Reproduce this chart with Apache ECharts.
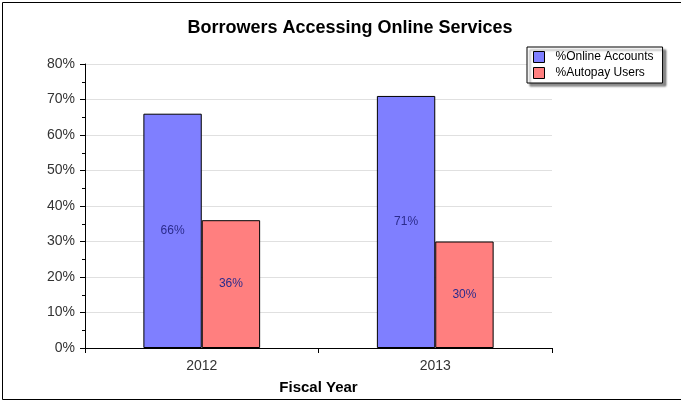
<!DOCTYPE html>
<html><head><meta charset="utf-8">
<script src="https://cdn.jsdelivr.net/npm/echarts@6/dist/echarts.min.js"></script>
<style>html,body{margin:0;padding:0;background:#fff}#c{width:681px;height:400px}</style>
</head><body><div id="c"></div>
<script>
const categories = ['2012', '2013'];
const onlineAccounts = [66, 71];
const autopayUsers = [36, 30];
const seriesNames = ['%Online Accounts', '%Autopay Users'];

const chart = echarts.init(document.getElementById('c'), null, {renderer: 'canvas'});
const labelStyle = {show: true, position: 'inside', formatter: '{c}%', color: '#2b2b8c', fontSize: 12, fontFamily: 'Arial, Liberation Sans, sans-serif'};
chart.setOption({
  animation: false,
  backgroundColor: '#fff',
  textStyle: {fontFamily: 'Arial, Liberation Sans, sans-serif'},
  title: {
    text: 'Borrowers Accessing Online Services',
    left: 345, textAlign: 'center', top: 14,
    textStyle: {fontSize: 18, fontWeight: 'bold', color: '#000'}
  },
  legend: {
    orient: 'vertical', left: 527, top: 47,
    icon: 'rect',
    itemWidth: 11, itemHeight: 11, itemGap: 4,
    padding: [4, 9, 4, 6],
    backgroundColor: '#fff', borderColor: '#000', borderWidth: 1,
    shadowColor: 'rgba(0,0,0,0.45)', shadowOffsetX: 3, shadowOffsetY: 3, shadowBlur: 2,
    textStyle: {fontSize: 12, color: '#000', padding: [0, 0, 0, 6]},
    data: seriesNames.map(n => ({name: n, itemStyle: {borderColor: '#000', borderWidth: 1}}))
  },
  grid: {left: 85, right: 129, top: 64, bottom: 51, containLabel: false},
  xAxis: {
    type: 'category', data: categories,
    name: 'Fiscal Year', nameLocation: 'middle', nameGap: 32,
    nameTextStyle: {fontSize: 15, fontWeight: 'bold', color: '#000'},
    axisLine: {lineStyle: {color: '#000'}},
    axisTick: {show: true, alignWithLabel: false, length: 5, inside: false, lineStyle: {color: '#000'}},
    axisLabel: {fontSize: 14, color: '#333', margin: 11}
  },
  yAxis: {
    type: 'value', min: 0, max: 80, interval: 10,
    axisLine: {show: true, lineStyle: {color: '#000'}},
    axisTick: {show: true, length: 5, lineStyle: {color: '#000'}},
    minorTick: {show: true, splitNumber: 2, length: 3, lineStyle: {color: '#000'}},
    axisLabel: {formatter: '{value}%', fontSize: 14, color: '#333', margin: 10},
    splitLine: {show: true, lineStyle: {color: '#e0e0e0', width: 1}}
  },
  series: [
    {name: seriesNames[0], type: 'bar', data: onlineAccounts, barGap: '0%', barCategoryGap: '50%',
     itemStyle: {color: '#7f7fff', borderColor: '#000', borderWidth: 1}, label: labelStyle},
    {name: seriesNames[1], type: 'bar', data: autopayUsers,
     itemStyle: {color: '#ff7f7f', borderColor: '#000', borderWidth: 1}, label: labelStyle}
  ],
  graphic: [{type: 'rect', left: 0, top: 0, shape: {x: 0.5, y: 0.5, width: 679, height: 397},
    style: {fill: 'none', stroke: '#000', lineWidth: 1}, silent: true}]
});
</script></body></html>
